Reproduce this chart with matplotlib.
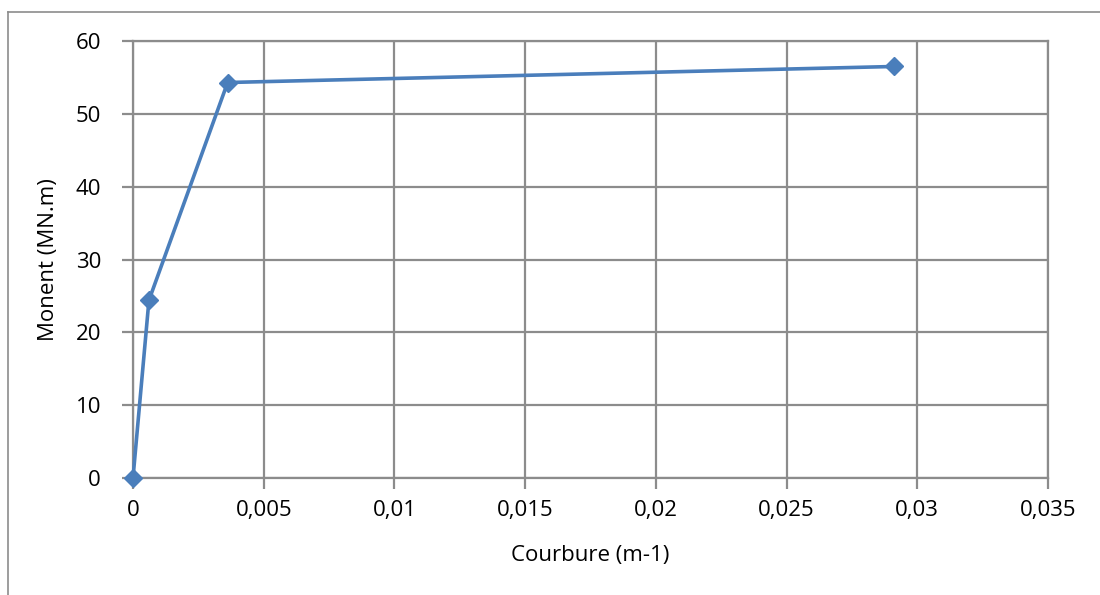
import matplotlib.pyplot as plt
from matplotlib.lines import Line2D
from matplotlib.ticker import FuncFormatter

# Moment-curvature points
courbure = [0.0, 0.00061, 0.00362, 0.0291]
moment = [0.0, 24.4, 54.3, 56.5]

x_ticks = [0, 0.005, 0.01, 0.015, 0.02, 0.025, 0.03, 0.035]
y_ticks = [0, 10, 20, 30, 40, 50, 60]

plt.rcParams['font.family'] = ['Open Sans', 'DejaVu Sans']

grid_c = '#8c8c8c'
line_c = '#4a7ebb'

fig = plt.figure(figsize=(11, 5.95), dpi=100)
ax = fig.add_axes([0.1209, 0.1966, 0.8318, 0.7345])

ax.plot(courbure, moment, color=line_c, lw=2.6, marker='D', ms=9,
        mec=line_c, mfc=line_c, zorder=3, clip_on=False)

ax.set_xlim(0, 0.035)
ax.set_ylim(0, 60)
ax.set_xticks(x_ticks)
ax.set_yticks(y_ticks)
ax.xaxis.set_major_formatter(FuncFormatter(lambda v, p: ('%g' % round(v, 4)).replace('.', ',')))
ax.grid(True, color=grid_c, lw=1.6)
ax.set_axisbelow(True)
for s in ax.spines.values():
    s.set_color(grid_c)
    s.set_linewidth(1.6)
ax.tick_params(axis='both', colors=grid_c, length=8, width=1.6, labelcolor='black',
               labelsize=16)
ax.tick_params(axis='x', pad=8)
ax.tick_params(axis='y', pad=15)

ax.set_xlabel('Courbure (m-1)', fontsize=16, labelpad=17)
ax.set_ylabel('Monent (MN.m)', fontsize=16, labelpad=12)

# outer chart frame (top and left edges only visible)
fig.add_artist(Line2D([7.5 / 1100, 1.0], [1 - 11.7 / 595, 1 - 11.7 / 595],
                      transform=fig.transFigure, color='#8c8c8c', lw=1.2))
fig.add_artist(Line2D([7.5 / 1100, 7.5 / 1100], [0, 1 - 11.7 / 595],
                      transform=fig.transFigure, color='#8c8c8c', lw=1.2))

plt.savefig('out.png', dpi=100)
